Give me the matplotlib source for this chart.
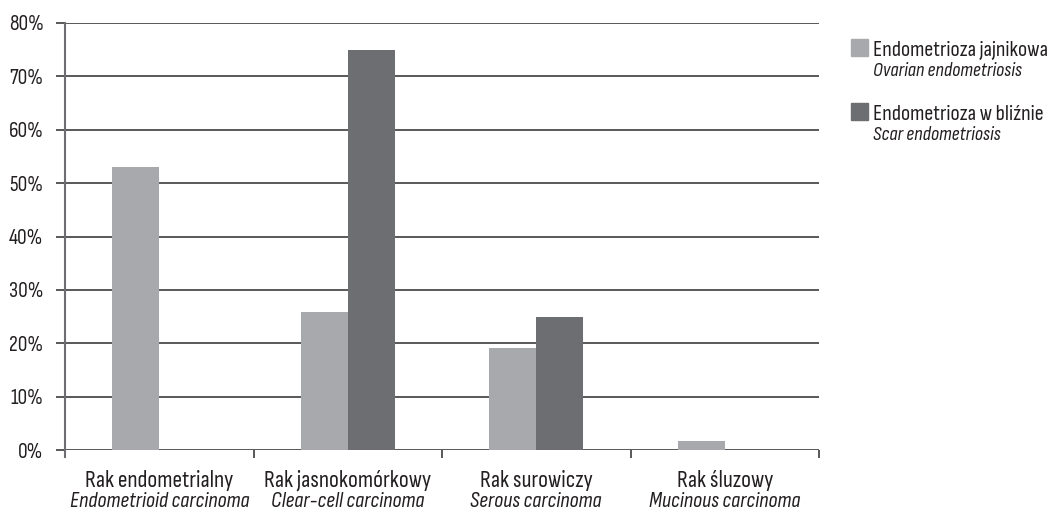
import numpy as np
import matplotlib.pyplot as plt

categories_pl = ["Rak endometrialny", "Rak jasnokomórkowy", "Rak surowiczy", "Rak śluzowy"]
categories_en = ["Endometrioid carcinoma", "Clear-cell carcinoma", "Serous carcinoma", "Mucinous carcinoma"]
ovarian = [53, 25.8, 19.2, 1.7]
scar = [0, 75, 25, 0]
series_pl = ["Endometrioza jajnikowa", "Endometrioza w bliźnie"]
series_en = ["Ovarian endometriosis", "Scar endometriosis"]
yticks = [0, 10, 20, 30, 40, 50, 60, 70, 80]

LIGHT = "#a7a9ac"
DARK = "#6d6e71"
GRID = "#2b2b2b"
TEXT = "#231f20"

plt.rcParams["font.family"] = ["Sofia Sans Condensed", "Roboto Condensed", "DejaVu Sans"]

W, H = 1052, 509
fig = plt.figure(figsize=(W / 100, H / 100), dpi=100)
ax = fig.add_axes([65 / W, 59 / H, 754 / W, 427 / H])

x = np.arange(len(categories_pl))
w = 0.25
ax.bar(x - w / 2, ovarian, w, color=LIGHT, zorder=3)
ax.bar(x + w / 2, scar, w, color=DARK, zorder=3)

ax.set_xlim(-0.5, len(categories_pl) - 0.5)
ax.set_ylim(0, 80)
ax.set_yticks(yticks)
ax.set_yticklabels([f"{v}%" for v in yticks], fontsize=15.5, fontweight=500, color=TEXT)
ax.yaxis.grid(True, color=GRID, linewidth=1.1, zorder=1)
ax.tick_params(axis="y", length=6.5, width=1.1, color=GRID, pad=9)

ax.set_xticks(np.arange(len(categories_pl) + 1) - 0.5)
ax.set_xticklabels([])
ax.tick_params(axis="x", length=5.5, width=1.1, color=GRID)

for s in ["top", "right", "bottom"]:
    ax.spines[s].set_visible(False)
ax.spines["left"].set_color(DARK)
ax.spines["left"].set_linewidth(1.5)
ax.spines["left"].set_bounds(-1.3, 80)
ax.spines["left"].set_zorder(4)

# two-line category names below the axis: Polish, then English in italics
for i in x:
    xf = ax.transData.transform((i, 0))[0] / W
    fig.text(xf, 1 - 487 / H, categories_pl[i], ha="center", va="baseline",
             fontsize=17, fontweight=500, color=TEXT)
    fig.text(xf, 1 - 507 / H, categories_en[i], ha="center", va="baseline",
             fontsize=16, style="italic", color=TEXT)

# legend: colour square, Polish name, English name underneath
for j, (col, pl, en) in enumerate(zip([LIGHT, DARK], series_pl, series_en)):
    top = 39 + j * 64
    fig.patches.append(plt.Rectangle((851 / W, 1 - (top + 17) / H), 17 / W, 17 / H,
                                     transform=fig.transFigure, color=col))
    fig.text(873 / W, 1 - (top + 17) / H, pl, ha="left", va="baseline",
             fontsize=16, fontweight=500, color=TEXT)
    fig.text(873 / W, 1 - (top + 37) / H, en, ha="left", va="baseline",
             fontsize=14.5, style="italic", color=TEXT)

fig.savefig("out.png", dpi=100)
